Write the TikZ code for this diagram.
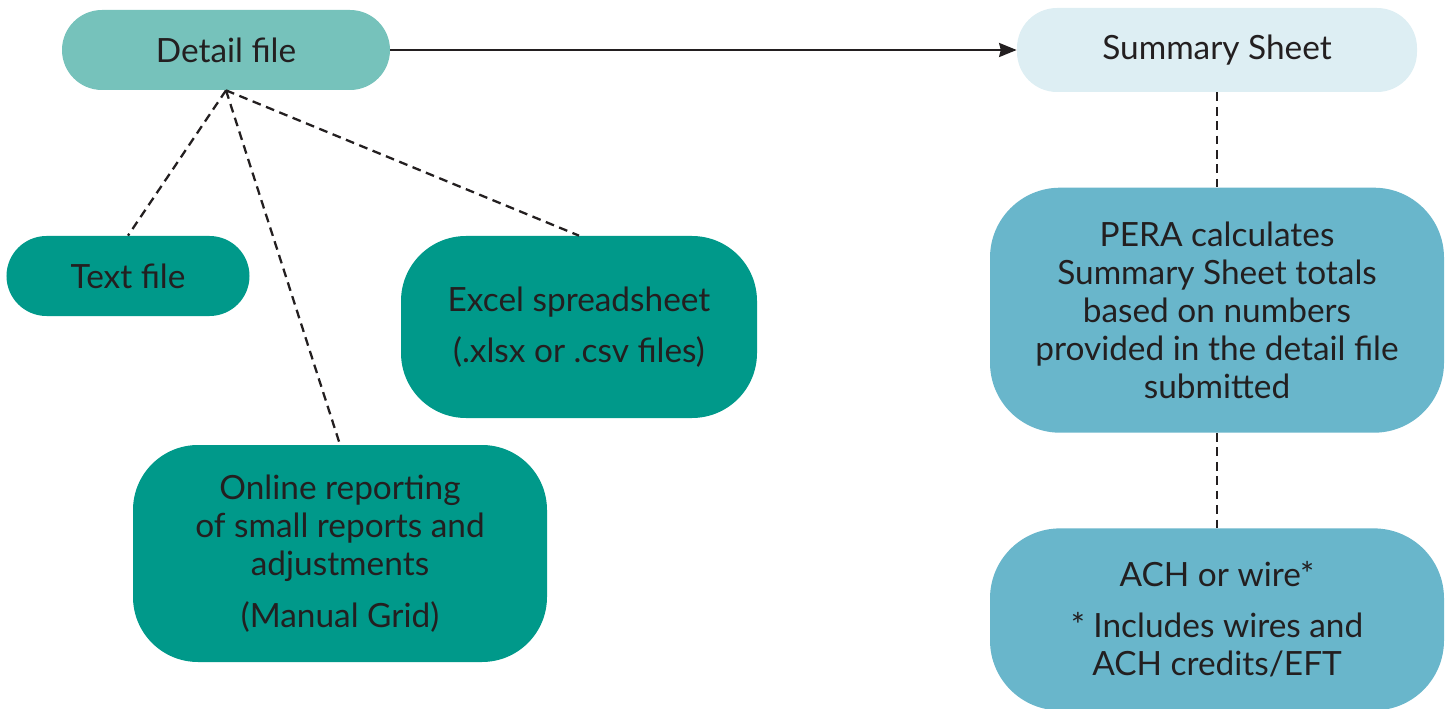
\documentclass[tikz,border=0pt]{standalone}
\usepackage{xcolor}
\usepackage{fontspec}
\setmainfont{Lato}
\usepackage{tikz}
\usetikzlibrary{arrows.meta,positioning}
\definecolor{detailfill}{RGB}{118,194,187}
\definecolor{srcfill}{RGB}{0,153,138}
\definecolor{sumfill}{RGB}{221,238,243}
\definecolor{perafill}{RGB}{105,182,203}
\definecolor{inkgray}{RGB}{35,31,32}

\begin{document}
\begin{tikzpicture}[
  box/.style={rounded corners=1.3cm, align=center, text=inkgray, inner sep=0pt,
              font=\fontsize{19}{21.6}\selectfont},
  pill/.style={box, rounded corners=0.8cm, minimum height=1.6cm},
  link/.style={inkgray, line width=1.3pt, dash pattern=on 5pt off 3.2pt},
  arr/.style={-{Stealth[length=10pt,width=8pt,inset=1pt]}, line width=1.2pt, color=inkgray}
]
  \useasboundingbox (0,0) rectangle (29.06,-14.18);
  \node[pill, fill=detailfill, minimum width=65.6mm] (detail) at (4.52,-1.0) {Detail file};
  \node[pill, fill=sumfill, minimum width=80mm, minimum height=1.68cm] (summary) at (24.34,-1.0) {Summary Sheet};
  \node[pill, fill=srcfill, minimum width=48.6mm] (textf) at (2.56,-5.52) {Text file};
  \node[box, fill=srcfill, minimum width=71.2mm, minimum height=36.4mm] (excel) at (11.58,-6.54) {Excel spreadsheet\\[7.4pt](.xlsx or .csv files)};
  \node[box, fill=srcfill, minimum width=82.8mm, minimum height=43.4mm] (online) at (6.8,-11.07) {Online reporting\\of small reports and\\adjustments\\[8pt](Manual Grid)};
  \node[box, fill=perafill, minimum width=90.8mm, minimum height=49mm, rounded corners=1.4cm, below=19mm of summary] (pera) {PERA calculates\\Summary Sheet totals\\based on numbers\\provided in the detail file\\submitted};
  \node[box, fill=perafill, minimum width=90.8mm, minimum height=36.4mm, rounded corners=1.4cm, below=19mm of pera] (ach) {ACH or wire*\\[7.4pt]* Includes wires and\\ACH credits/EFT};
  \draw[arr] (detail.east) -- (summary.west);
  \draw[link] (detail.south) -- (textf.north);
  \draw[link] (detail.south) -- (online.north);
  \draw[link] (detail.south) -- (excel.north);
  \draw[link] (summary.south) -- (pera.north);
  \draw[link] (pera.south) -- (ach.north);
\end{tikzpicture}
\end{document}
